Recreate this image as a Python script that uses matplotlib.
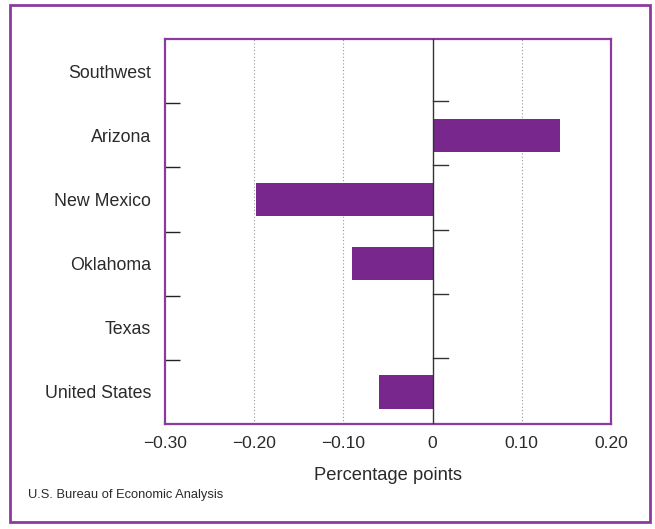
import matplotlib
matplotlib.use("Agg")
import matplotlib.pyplot as plt
from matplotlib.patches import Rectangle
import numpy as np

categories = ["Southwest", "Arizona", "New Mexico", "Oklahoma", "Texas", "United States"]
values = [0.001, 0.143, -0.198, -0.090, 0.001, -0.060]
xticks = [-0.30, -0.20, -0.10, 0.0, 0.10, 0.20]
xticklabels = ["\u22120.30", "\u22120.20", "\u22120.10", "0", "0.10", "0.20"]

bar_color = "#78288C"
border_color = "#8B3A9E"
text_color = "#2a2a2a"

plt.rcParams['font.family'] = ['Liberation Sans', 'DejaVu Sans']

fig = plt.figure(figsize=(6.55, 5.29), dpi=100)
ax = fig.add_axes([165/655, 1-424/529, (611-165)/655, (424-39)/529])

y = np.arange(len(categories))
ax.barh(y, values, height=0.52, color=bar_color, zorder=3)
ax.set_ylim(len(categories)-0.5, -0.5)
ax.set_xlim(-0.30, 0.20)

ax.set_yticks(y)
ax.set_yticklabels(categories, fontsize=12.8, color=text_color)
ax.tick_params(axis='y', which='major', length=0, pad=10)
bounds = y[:-1] + 0.5
ax.set_yticks(bounds, minor=True)
ax.tick_params(axis='y', which='minor', direction='in', length=11, width=1.0, color="#222222")

ax.set_xticks(xticks)
ax.set_xticklabels(xticklabels, fontsize=12.5, color=text_color)
ax.tick_params(axis='x', length=0, pad=9)

for gx in [-0.20, -0.10, 0.10]:
    ax.axvline(gx, color="#999999", linestyle=(0, (1, 2)), linewidth=0.8, zorder=1)
ax.axvline(0, color="#333333", linewidth=1.0, zorder=4)
for b in bounds:
    ax.plot([0, 0.017], [b - 0.03, b - 0.03], color="#333333", linewidth=1.0, zorder=4)

for s in ax.spines.values():
    s.set_color(border_color)
    s.set_linewidth(1.6)

ax.set_xlabel("Percentage points", fontsize=13.2, color=text_color, labelpad=11)

fig.text(28/655, 1-495/529, "U.S. Bureau of Economic Analysis", fontsize=9.3,
         family=['Liberation Sans Narrow', 'Liberation Sans', 'DejaVu Sans'],
         color=text_color, va='center', ha='left')

fig.patches.append(Rectangle((10/655, 1-522/529), (650-10)/655, (522-5)/529,
                             transform=fig.transFigure, fill=False,
                             edgecolor=border_color, linewidth=2.0))

fig.savefig("out.png", dpi=100)
